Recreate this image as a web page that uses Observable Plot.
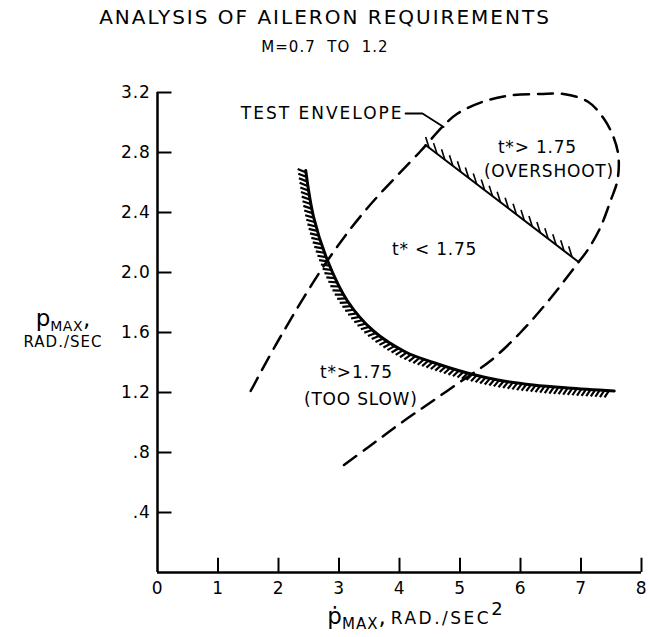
<!DOCTYPE html>
<html><head><meta charset="utf-8">
<script src="https://cdn.jsdelivr.net/npm/d3@7"></script>
<script src="https://cdn.jsdelivr.net/npm/@observablehq/plot@0.6"></script>
<style>
body{margin:0;background:#fff;}
#wrap{position:relative;width:650px;height:637px;font-family:"DejaVu Sans",sans-serif;color:#000;overflow:hidden;}
#title{position:absolute;left:0;width:650px;top:5px;text-align:center;font-size:20px;letter-spacing:2px;}
#sub{position:absolute;left:0;width:650px;top:38px;text-align:center;font-size:15px;letter-spacing:1px;}
#chart{position:absolute;left:0;top:60px;}
#ylab{position:absolute;left:8px;top:306px;width:110px;text-align:center;line-height:1.05;}
#ylab .p{font-size:23px;}
#ylab sub{font-size:14px;vertical-align:-5px;letter-spacing:0.5px;}
#ylab .u{font-size:15px;letter-spacing:1px;}
#xlab{position:absolute;left:230px;width:370px;top:598px;text-align:center;white-space:nowrap;}
#xlab .p{font-size:23px;}
#xlab sub{font-size:15px;vertical-align:-5px;letter-spacing:1px;}
#xlab .u{font-size:17px;letter-spacing:2.5px;}
#xlab sup{font-size:18px;vertical-align:9px;}
</style></head><body>
<div id="wrap">
  <div id="title">ANALYSIS OF AILERON REQUIREMENTS</div>
  <div id="sub">M=0.7&nbsp;&nbsp;TO&nbsp;&nbsp;1.2</div>
  <div id="chart"></div>
  <div id="ylab"><span class="p">p</span><sub>MAX</sub><span class="p">,</span><br><span class="u">RAD./SEC</span></div>
  <div id="xlab"><span class="p">ṗ</span><sub>MAX</sub><span class="p">,</span> <span class="u">RAD./SEC</span><sup>2</sup></div>
</div>
<script>
// axis ticks
const xTicks = [0, 1, 2, 3, 4, 5, 6, 7, 8];
const yTicks = [0.4, 0.8, 1.2, 1.6, 2.0, 2.4, 2.8, 3.2];
const yTickLabels = [".4", ".8", "1.2", "1.6", "2.0", "2.4", "2.8", "3.2"];

// t* = 1.75 boundary, "too slow" side (hatched)
const slowX = [2.45, 2.58, 2.81, 3.14, 3.57, 4.10, 4.56, 5.12, 5.67, 6.21, 6.78, 7.55];
const slowY = [2.68, 2.37, 2.08, 1.81, 1.61, 1.47, 1.40, 1.33, 1.28, 1.25, 1.23, 1.21];

// t* = 1.75 boundary, "overshoot" side (hatched)
const overX = [4.43, 6.96];
const overY = [2.85, 2.07];

// test envelope (dashed)
const envX = [1.54, 2.03, 2.81, 3.47, 4.35, 4.73, 4.96, 5.39, 5.83, 6.33, 6.71, 7.11, 7.37, 7.54, 7.62, 7.60, 7.49, 7.32, 7.11, 6.96, 6.50, 6.00, 5.50, 5.00, 4.50, 4.00, 3.50, 2.99];
const envY = [1.21, 1.57, 2.08, 2.43, 2.81, 2.98, 3.06, 3.14, 3.18, 3.19, 3.19, 3.14, 3.03, 2.90, 2.77, 2.61, 2.48, 2.30, 2.15, 2.07, 1.83, 1.60, 1.41, 1.27, 1.13, 0.99, 0.84, 0.69];

// envelope callout leader
const leaderX = [4.10, 4.38, 4.73];
const leaderY = [3.06, 3.06, 2.97];

// region annotations
const noteText = ["t*> 1.75", "(OVERSHOOT)", "t* < 1.75", "t*>1.75", "(TOO SLOW)"];
const noteX = [6.28, 6.47, 4.58, 3.29, 3.36];
const noteY = [2.83, 2.67, 2.15, 1.33, 1.15];

const zip = (xs, ys) => xs.map((x, i) => ({x, y: ys[i]}));
const slow = zip(slowX, slowY);
const over = zip(overX, overY);
const env = zip(envX, envY);
const leader = zip(leaderX, leaderY);
const notes = noteText.map((t, i) => ({t, x: noteX[i], y: noteY[i]}));

const plot = Plot.plot({
  width: 650,
  height: 577,
  marginLeft: 157,
  marginRight: 9,
  marginTop: 32,
  marginBottom: 65,
  x: {domain: [0, 8]},
  y: {domain: [0, 3.2]},
  style: {fontFamily: "DejaVu Sans, sans-serif", fontSize: "17px", color: "#000", background: "#fff"},
  marks: [
    // axis lines
    Plot.ruleX([0], {y1: 0, y2: 3.2, stroke: "#000", strokeWidth: 2.5}),
    Plot.ruleY([0], {x1: 0, x2: 8, stroke: "#000", strokeWidth: 2.5}),
    // inward ticks
    Plot.ruleY(yTicks, {y: d => d, x1: 0, x2: 0.24, stroke: "#000", strokeWidth: 2}),
    Plot.ruleX(xTicks.slice(1), {x: d => d, y1: 0, y2: 0.095, stroke: "#000", strokeWidth: 2}),
    // tick labels
    Plot.axisY({ticks: yTicks, tickSize: 0, tickPadding: 7, tickFormat: d => yTickLabels[yTicks.indexOf(d)], label: null, fontSize: 17}),
    Plot.axisX({ticks: xTicks, tickSize: 0, tickPadding: 9, label: null, fontSize: 17}),
    // test envelope
    Plot.line(env, {x: "x", y: "y", curve: "catmull-rom", stroke: "#000", strokeWidth: 2.5, strokeDasharray: "15 9"}),
    Plot.line(leader, {x: "x", y: "y", stroke: "#000", strokeWidth: 1.8}),
    Plot.text(["TEST ENVELOPE"], {x: leaderX[0], y: leaderY[0], text: d => d, textAnchor: "end", dx: -2, fontSize: 17}),
    // boundaries (tagged by near-black stroke so their hatching can be found)
    Plot.line(slow, {x: "x", y: "y", curve: "catmull-rom", stroke: "#010101", strokeWidth: 3}),
    Plot.line(over, {x: "x", y: "y", stroke: "#020202", strokeWidth: 2}),
    // annotations
    Plot.text(notes, {x: "x", y: "y", text: "t", fontSize: 17})
  ]
});
document.getElementById("chart").appendChild(plot);
plot.querySelectorAll("text").forEach(t => {
  t.style.letterSpacing = t.textContent === "TEST ENVELOPE" ? "2px" : "0.8px";
});

// hatching derived from the rendered boundary paths
function findPath(color) {
  const el = plot.querySelector(`[stroke="${color}"]`);
  if (!el) return null;
  return el.tagName.toLowerCase() === "path" ? el : el.querySelector("path");
}
function hatch(color, spacing, len, angleDeg, side, width) {
  const path = findPath(color);
  if (!path) return;
  const total = path.getTotalLength();
  const a = angleDeg * Math.PI / 180;
  const out = d3.select(plot).append("g").attr("stroke", "#000").attr("stroke-width", width).attr("stroke-linecap", "butt");
  for (let s = spacing / 2; s < total - 1; s += spacing) {
    const p = path.getPointAtLength(s);
    const q = path.getPointAtLength(Math.min(total, s + 0.5));
    const r = path.getPointAtLength(Math.max(0, s - 0.5));
    let dx = q.x - r.x, dy = q.y - r.y;
    const n = Math.hypot(dx, dy) || 1; dx /= n; dy /= n;
    const nx = side * -dy, ny = side * dx;
    const vx = Math.cos(a) * (-dx) + Math.sin(a) * nx;
    const vy = Math.cos(a) * (-dy) + Math.sin(a) * ny;
    out.append("line").attr("x1", p.x).attr("y1", p.y).attr("x2", p.x + len * vx).attr("y2", p.y + len * vy);
  }
}
hatch("#010101", 4.6, 8.5, 60, 1, 2.2);
hatch("#020202", 10, 11, 35, -1, 1.6);
</script>
</body></html>
